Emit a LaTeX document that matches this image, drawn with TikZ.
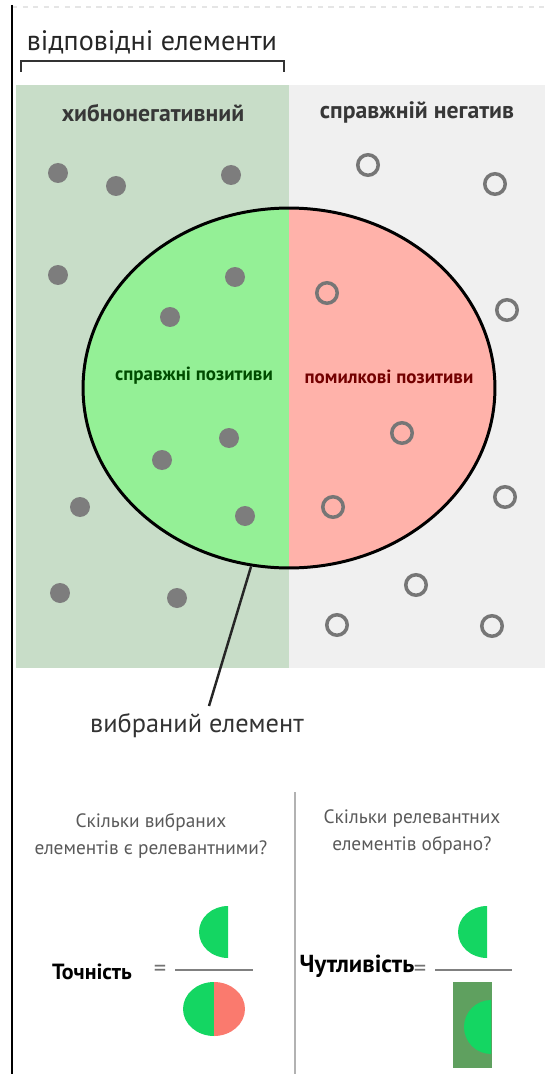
\documentclass[tikz,border=0pt]{standalone}
\usepackage{fontspec}
\setmainfont{PT Sans}
\usepackage{xcolor}
\usepackage{tikz}
\usetikzlibrary{shapes.geometric,positioning,calc}

\definecolor{bgfn}{RGB}{200,221,200}
\definecolor{bgtn}{RGB}{240,240,240}
\definecolor{tpfill}{RGB}{148,240,150}
\definecolor{fpfill}{RGB}{255,178,170}
\definecolor{dotgray}{RGB}{125,125,125}
\definecolor{ringgray}{RGB}{118,118,118}
\definecolor{brgreen}{RGB}{20,214,98}
\definecolor{salmon}{RGB}{250,122,110}
\definecolor{dkgreen}{RGB}{95,160,95}
\definecolor{txtgray}{RGB}{55,55,55}

\begin{document}
\begin{tikzpicture}[x=0.02cm,y=-0.02cm,
   fdot/.style={circle,fill=dotgray,minimum size=0.4cm,inner sep=0pt},
   odot/.style={circle,draw=ringgray,line width=2pt,minimum size=0.41cm,inner sep=0pt},
   hdr/.style={font=\fontsize{13.5}{15}\selectfont\bfseries,text=txtgray},
   inlbl/.style={font=\fontsize{10.8}{12}\selectfont\bfseries},
   qtxt/.style={font=\fontsize{11}{15}\selectfont,text=black!65,align=center},
   eqs/.style={font=\fontsize{14}{15}\selectfont,text=black!55},
   selell/.style={ellipse,draw,line width=1.7pt,minimum width=8.24cm,
     minimum height=7.2cm,inner sep=0pt,
     path picture={
       \fill[tpfill] (path picture bounding box.north west) rectangle (path picture bounding box.south);
       \fill[fpfill] (path picture bounding box.north) rectangle (path picture bounding box.south east);}}]
  \useasboundingbox (0,0) rectangle (547,1074);
  % frame and heading
  \draw[black!10,dashed,line width=1pt] (12,7) -- (547,7);
  \draw[line width=1.1pt] (12,5) -- (12,1074);
  \node[font=\fontsize{16}{18}\selectfont,text=black!85] (rel) at (152,42) {відповідні елементи};
  \draw[line width=1.3pt,black!80] (21,72) -- (21,61) -- (284,61) -- (284,72);
  \fill[bgfn] (16,85) rectangle (289,668);
  \fill[bgtn] (289,85) rectangle (545,668);
  \node[hdr] (fn) at (153,113) {хибнонегативний};
  \node[hdr] (tn) at (417,112) {справжній негатив};
  % selection
  \node[selell] (sel) at (289,388) {};
  \node[inlbl,text=green!30!black] (tp) at (194,376) {справжні позитиви};
  \node[inlbl,text=red!45!black] (fp) at (389,377) {помилкові позитиви};
  \foreach \x/\y [count=\i] in {58/173,116/186,231/175,58/275,235/277,170/317,
      229/438,162/460,80/507,245/516,60/593,177/598}
    \node[fdot] (f\i) at (\x,\y) {};
  \foreach \x/\y [count=\i] in {368/165,495/184,327/293,507/310,402/433,
      333/507,505/497,416/585,337/625,492/626}
    \node[odot] (o\i) at (\x,\y) {};
  \node[font=\fontsize{15}{17}\selectfont,text=black!80] (sl) at (197,726) {вибраний елемент};
  \coordinate (ptr) at (209,706);
  \draw[line width=1.4pt,black!85] (sel.258) -- (ptr);
  % precision and recall
  \draw[black!30,line width=1.2pt] (295,792) -- (295,1074);
  \node[qtxt] (q1) at (151,836) {Скільки вибраних\\елементів є релевантними?};
  \node[qtxt] (q2) at (412,832) {Скільки релевантних\\елементів обрано?};
  \node[font=\fontsize{12.5}{14}\selectfont\bfseries] (prec) at (92,972) {Точність};
  \node[eqs] (eq1) at (160,971) {=};
  \draw[black!50,line width=1.2pt] (175,970) -- (253,970);
  \fill[brgreen] (228,906) arc[start angle=90,end angle=270,x radius=0.58cm,y radius=0.52cm] -- cycle;
  \fill[brgreen] (214,982) arc[start angle=90,end angle=270,x radius=0.62cm,y radius=0.54cm] -- cycle;
  \fill[salmon] (214,982) arc[start angle=90,end angle=-90,x radius=0.62cm,y radius=0.54cm] -- cycle;
  \node[font=\fontsize{14}{15}\selectfont\bfseries] (rec) at (357,966) {Чутливість};
  \node[eqs] (eq2) at (420,971) {=};
  \draw[black!50,line width=1.2pt] (435,970) -- (512,970);
  \fill[brgreen] (487,906) arc[start angle=90,end angle=270,x radius=0.58cm,y radius=0.52cm] -- cycle;
  \fill[dkgreen] (453,982) rectangle (492,1068);
  \fill[brgreen] (491,1000) arc[start angle=90,end angle=270,x radius=0.54cm,y radius=0.54cm] -- cycle;
\end{tikzpicture}
\end{document}
